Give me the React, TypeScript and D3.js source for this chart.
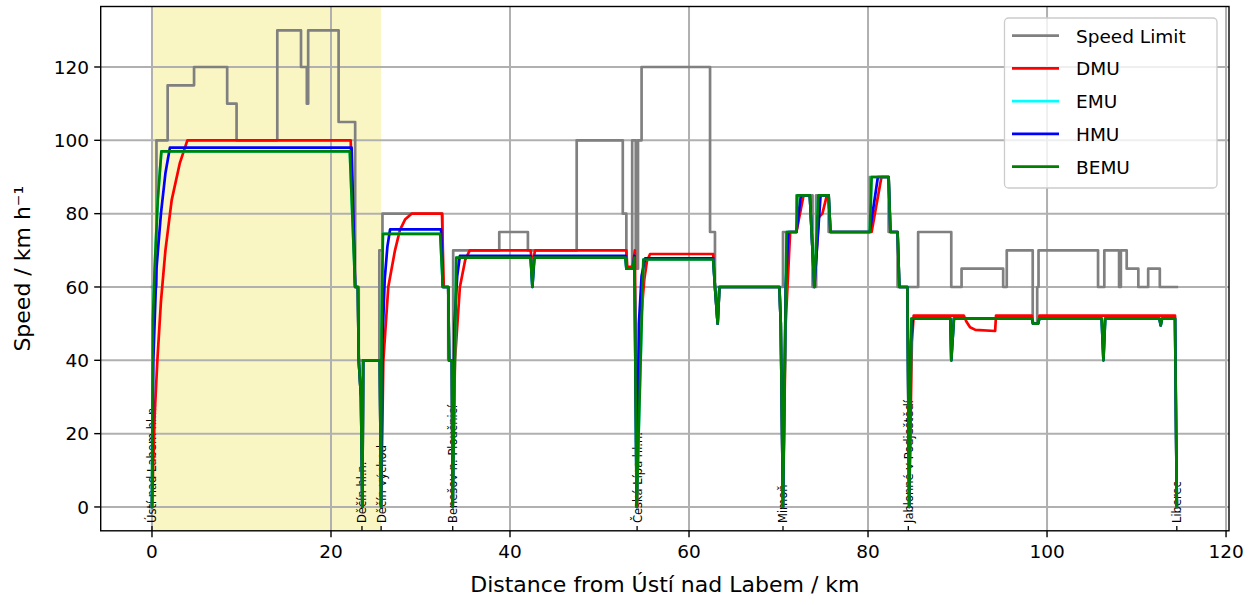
import React from "react";
import * as d3 from "d3";

type P = [number, number];

// Speed limit: [km where limit starts, km/h]
const speedLimit: P[] = [
  [0, 60], [0.5, 100], [1.75, 115], [4.7, 120], [8.4, 110], [9.45, 100], [14.0, 130],
  [16.65, 120], [17.3, 110], [17.45, 130], [20.85, 105], [22.7, 60], [23.1, 40],
  [25.4, 70], [25.75, 80], [32.45, 60], [33.1, 40], [33.65, 70], [38.8, 75], [42.0, 70],
  [47.45, 100], [52.6, 80], [53.0, 65], [53.65, 100], [54.05, 65], [54.3, 100], [54.7, 120],
  [62.35, 75], [62.9, 60], [70.5, 75], [72.0, 85], [73.8, 60], [74.2, 85], [75.6, 75],
  [80.2, 90], [82.3, 75], [83.3, 60], [85.6, 75], [89.3, 60], [90.45, 65], [95.1, 60],
  [95.5, 70], [98.4, 50], [98.9, 60], [99.05, 70], [105.7, 60], [106.4, 70], [108.05, 60],
  [108.25, 70], [108.9, 65], [110.2, 60], [111.3, 65], [112.6, 60], [114.5, 60],
];

const dmuSpeed: P[] = [
  [0, 0], [0.3, 25], [0.6, 40], [1.0, 56], [1.5, 70], [2.2, 83.7], [3.1, 93.7], [3.95, 100],
  [22.2, 100], [22.7, 60], [23.0, 60], [23.1, 40], [23.35, 30], [23.5, 0], [23.6, 40],
  [25.45, 40], [25.6, 0], [25.85, 40], [26.4, 60], [27.15, 70], [27.7, 75.5], [28.3, 78.5],
  [29.0, 80], [32.4, 80], [32.6, 60], [33.1, 60], [33.2, 40], [33.5, 40], [33.6, 0],
  [33.85, 40], [34.4, 60], [35.0, 67.4], [35.5, 70], [42.3, 70], [42.5, 66], [42.8, 70],
  [53.0, 70], [53.1, 65.5], [53.7, 65.5], [53.95, 70], [54.2, 0], [54.4, 30], [54.6, 50],
  [55.0, 62], [55.3, 67], [55.65, 69], [62.7, 69], [62.9, 60], [63.2, 50], [63.4, 60],
  [70.1, 60], [70.25, 50], [70.5, 0], [70.8, 50], [71.3, 75], [72.0, 75], [72.8, 85],
  [73.5, 85], [74.0, 60], [74.5, 79], [74.9, 80], [75.4, 85], [75.6, 85], [75.8, 75],
  [80.4, 75], [81.5, 90], [82.3, 90], [82.5, 75], [83.3, 75], [83.5, 60], [84.4, 60],
  [84.6, 0], [84.9, 45], [85.1, 52.2], [90.7, 52.2], [91.0, 50.5], [91.4, 49.0], [92.0, 48.3],
  [94.2, 48.0], [94.3, 52.2], [98.3, 52.2], [98.45, 50], [99.0, 50], [99.15, 52.2],
  [114.3, 52.2], [114.5, 0],
];

const emuSpeed: P[] = [
  [0, 0], [0.1, 51], [0.3, 65], [0.65, 84], [1.05, 97], [22.1, 97], [22.7, 60], [23.0, 60],
  [23.1, 40], [23.35, 30], [23.5, 0], [23.6, 40], [25.45, 40], [25.6, 0], [25.65, 48],
  [25.8, 74.5], [32.2, 74.5], [32.5, 60], [33.1, 60], [33.2, 40], [33.5, 40], [33.6, 0],
  [34.0, 68], [42.3, 68], [42.5, 60], [42.7, 68], [52.9, 68], [53.0, 65], [53.7, 65],
  [53.9, 68], [54.15, 0], [54.9, 67.5], [62.7, 67.5], [62.9, 60], [63.2, 50], [63.4, 60],
  [70.1, 60], [70.25, 50], [70.5, 0], [70.9, 75], [72.0, 75], [72.1, 85], [73.5, 85],
  [74.0, 60], [74.45, 85], [75.6, 85], [75.8, 75], [80.2, 75], [80.4, 90], [82.3, 90],
  [82.5, 75], [83.3, 75], [83.5, 60], [84.4, 60], [84.6, 0], [84.85, 51.4], [89.2, 51.4],
  [89.3, 40], [89.6, 51.4], [98.3, 51.4], [98.45, 50], [99.0, 50], [99.15, 51.4],
  [106.1, 51.4], [106.3, 40], [106.5, 51.4], [112.55, 51.4], [112.7, 49.5], [112.85, 51.4],
  [114.3, 51.4], [114.5, 0],
];

const hmuSpeed: P[] = [
  [0, 0], [0.15, 40], [0.5, 65], [1.0, 80], [1.5, 91], [2.0, 98], [22.3, 98], [22.7, 60],
  [23.0, 60], [23.1, 40], [23.35, 30], [23.5, 0], [23.6, 40], [25.45, 40], [25.6, 0],
  [25.75, 45], [26.0, 62], [26.3, 71], [26.6, 75.7], [32.3, 75.7], [32.5, 60], [33.1, 60],
  [33.2, 40], [33.5, 40], [33.6, 0], [33.8, 50], [34.1, 63], [34.4, 68.5], [42.3, 68.5],
  [42.5, 60], [42.75, 68.5], [52.9, 68.5], [53.0, 65], [53.7, 65], [53.9, 68.5], [54.15, 0],
  [54.4, 50], [54.7, 63], [55.1, 67.8], [62.7, 67.8], [62.9, 60], [63.2, 50], [63.4, 60],
  [70.1, 60], [70.25, 50], [70.5, 0], [70.8, 60], [71.1, 75], [72.0, 75], [72.5, 85],
  [73.5, 85], [74.0, 60], [74.7, 85], [75.6, 85], [75.8, 75], [80.2, 75], [81.1, 90],
  [82.3, 90], [82.5, 75], [83.3, 75], [83.5, 60], [84.4, 60], [84.6, 0], [84.8, 45],
  [85.0, 51.4], [89.2, 51.4], [89.3, 40], [89.6, 51.4], [98.3, 51.4], [98.45, 50], [99.0, 50],
  [99.15, 51.4], [106.1, 51.4], [106.3, 40], [106.5, 51.4], [112.55, 51.4], [112.7, 49.5],
  [112.85, 51.4], [114.3, 51.4], [114.5, 0],
];

const bemuSpeed: P[] = [
  [0, 0], [0.1, 51], [0.3, 65], [0.65, 84], [1.05, 97], [22.1, 97], [22.7, 60], [23.0, 60],
  [23.1, 40], [23.35, 30], [23.5, 0], [23.6, 40], [25.45, 40], [25.6, 0], [25.65, 48],
  [25.8, 74.5], [32.2, 74.5], [32.5, 60], [33.1, 60], [33.2, 40], [33.5, 40], [33.6, 0],
  [34.0, 68], [42.3, 68], [42.5, 60], [42.7, 68], [52.9, 68], [53.0, 65], [53.7, 65],
  [53.9, 68], [54.15, 0], [54.9, 67.5], [62.7, 67.5], [62.9, 60], [63.2, 50], [63.4, 60],
  [70.1, 60], [70.25, 50], [70.5, 0], [70.9, 75], [72.0, 75], [72.1, 85], [73.5, 85],
  [74.0, 60], [74.45, 85], [75.6, 85], [75.8, 75], [80.2, 75], [80.4, 90], [82.3, 90],
  [82.5, 75], [83.3, 75], [83.5, 60], [84.4, 60], [84.6, 0], [84.85, 51.4], [89.2, 51.4],
  [89.3, 40], [89.6, 51.4], [98.3, 51.4], [98.45, 50], [99.0, 50], [99.15, 51.4],
  [106.1, 51.4], [106.3, 40], [106.5, 51.4], [112.55, 51.4], [112.7, 49.5], [112.85, 51.4],
  [114.3, 51.4], [114.5, 0],
];

const seriesNames = ["Speed Limit", "DMU", "EMU", "HMU", "BEMU"];
const seriesColors = ["#808080", "#ff0000", "#00ffff", "#0000ff", "#008000"];

const stationNames = [
  "Ústí nad Labem hl.n.", "Děčín hl.n.", "Děčín východ", "Benešov n. Ploučnicí",
  "Česká Lípa hl.n.", "Mimoň", "Jablonné v Podještědí", "Liberec",
];
const stationKm = [0, 23.46, 25.6, 33.6, 54.2, 70.5, 84.5, 114.5];

const xTicks = [0, 20, 40, 60, 80, 100, 120];
const yTicks = [0, 20, 40, 60, 80, 100, 120];
const highlightKm: [number, number] = [0, 25.6];

export default function App() {
  const W = 1260, H = 605;
  const left = 100.7, right = 1229, top = 6.5, bottom = 530.8;
  const x = d3.scaleLinear().domain([-5.73, 120.33]).range([left, right]);
  const y = d3.scaleLinear().domain([-6.5, 136.5]).range([bottom, top]);
  const line = d3.line<P>().x((d) => x(d[0])).y((d) => y(d[1]));
  const stepLine = d3.line<P>().x((d) => x(d[0])).y((d) => y(d[1])).curve(d3.curveStepAfter);
  const series = [dmuSpeed, emuSpeed, hmuSpeed, bemuSpeed];
  const font = "'DejaVu Sans', sans-serif";

  return (
    <div style={{ position: "fixed", left: 0, top: 0 }}>
      <svg width={W} height={H} style={{ display: "block", background: "#fff" }} fontFamily={font}>
        <defs>
          <clipPath id="plot">
            <rect x={left} y={top} width={right - left} height={bottom - top} />
          </clipPath>
        </defs>
        <rect
          x={x(highlightKm[0])}
          y={top}
          width={x(highlightKm[1]) - x(highlightKm[0])}
          height={bottom - top}
          fill="#faf6c3"
        />
        {xTicks.map((t) => (
          <line key={"gx" + t} x1={x(t)} x2={x(t)} y1={top} y2={bottom} stroke="#b0b0b0" strokeWidth={2} />
        ))}
        {yTicks.map((t) => (
          <line key={"gy" + t} x1={left} x2={right} y1={y(t)} y2={y(t)} stroke="#b0b0b0" strokeWidth={2} />
        ))}
        {stationNames.map((s, i) => (
          <g key={"st" + i}>
            <text
              transform={`translate(${x(stationKm[i]) + 0.5},523) rotate(-90)`}
              fontSize={11.5}
              dominantBaseline="central"
              textAnchor="start"
              fill="#000"
            >
              {s}
            </text>
            <line x1={x(stationKm[i])} x2={x(stationKm[i])} y1={526} y2={bottom} stroke="#000" strokeWidth={1.3} />
          </g>
        ))}
        <g clipPath="url(#plot)" fill="none" strokeLinejoin="round" strokeLinecap="square">
          <path d={stepLine(speedLimit) || ""} stroke={seriesColors[0]} strokeWidth={2.7} />
          {series.map((s, i) => (
            <path key={"s" + i} d={line(s) || ""} stroke={seriesColors[i + 1]} strokeWidth={2.7} />
          ))}
        </g>
        <rect x={left} y={top} width={right - left} height={bottom - top} fill="none" stroke="#000" strokeWidth={1.4} />
        {xTicks.map((t) => (
          <g key={"xt" + t}>
            <line x1={x(t)} x2={x(t)} y1={bottom} y2={bottom + 6.5} stroke="#000" strokeWidth={1.4} />
            <text x={x(t)} y={558} fontSize={18.5} textAnchor="middle" fill="#000">
              {t}
            </text>
          </g>
        ))}
        {yTicks.map((t) => (
          <g key={"yt" + t}>
            <line x1={left - 6.5} x2={left} y1={y(t)} y2={y(t)} stroke="#000" strokeWidth={1.4} />
            <text x={89} y={y(t) + 6.7} fontSize={18.5} textAnchor="end" fill="#000">
              {t}
            </text>
          </g>
        ))}
        <text x={(left + right) / 2} y={592} fontSize={22} textAnchor="middle" fill="#000">
          Distance from Ústí nad Labem / km
        </text>
        <text
          transform={`translate(30,${(top + bottom) / 2}) rotate(-90)`}
          fontSize={22}
          textAnchor="middle"
          fill="#000"
        >
          Speed / km h⁻¹
        </text>
        <g>
          <rect x={1004.5} y={18} width={212.5} height={170} rx={4} fill="#fff" fillOpacity={0.8} stroke="#cccccc" strokeWidth={1.3} />
          {seriesNames.map((n, i) => (
            <g key={"lg" + i}>
              <line x1={1012} x2={1059} y1={35.7 + i * 32.75} y2={35.7 + i * 32.75} stroke={seriesColors[i]} strokeWidth={2.7} />
              <text x={1076} y={35.7 + i * 32.75 + 7} fontSize={18.5} fill="#000">
                {n}
              </text>
            </g>
          ))}
        </g>
      </svg>
    </div>
  );
}
